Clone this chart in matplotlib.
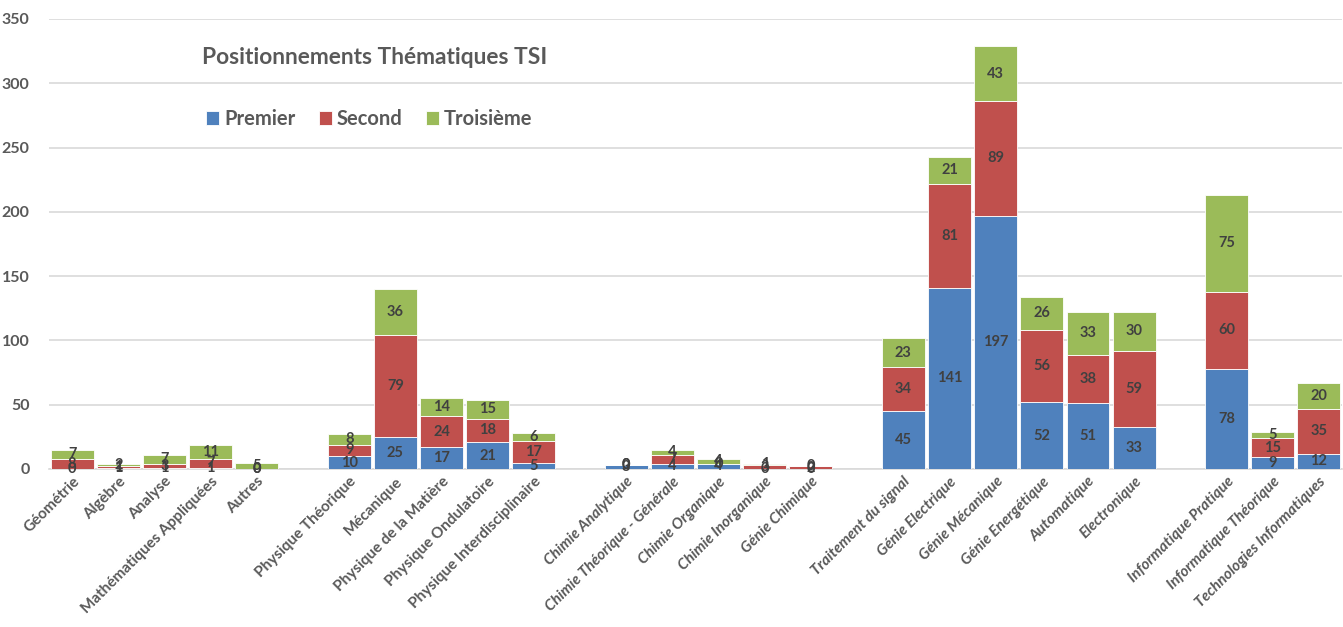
import matplotlib
matplotlib.use("Agg")
import matplotlib.pyplot as plt
import numpy as np

categories = ["Géométrie", "Algèbre", "Analyse", "Mathématiques Appliquées", "Autres", "",
              "Physique Théorique", "Mécanique", "Physique de la Matière", "Physique Ondulatoire",
              "Physique Interdisciplinaire", "",
              "Chimie Analytique", "Chimie Théorique - Générale", "Chimie Organique",
              "Chimie Inorganique", "Génie Chimique", "",
              "Traitement du signal", "Génie Electrique", "Génie Mécanique", "Génie Energétique",
              "Automatique", "Electronique", "",
              "Informatique Pratique", "Informatique Théorique", "Technologies Informatiques"]

premier = [0, 1, 1, 1, 0, None, 10, 25, 17, 21, 5, None, 3, 4, 4, 0, 0, None,
           45, 141, 197, 52, 51, 33, None, 78, 9, 12]
second = [8, 1, 3, 7, 0, None, 9, 79, 24, 18, 17, None, 0, 7, 0, 3, 2, None,
          34, 81, 89, 56, 38, 59, None, 60, 15, 35]
troisieme = [7, 2, 7, 11, 5, None, 8, 36, 14, 15, 6, None, 0, 4, 4, 1, 0, None,
             23, 21, 43, 26, 33, 30, None, 75, 5, 20]

series_names = ["Premier", "Second", "Troisième"]
colors = ["#4F81BD", "#C0504D", "#9BBB59"]
yticks = [0, 50, 100, 150, 200, 250, 300, 350]
title = "Positionnements Thématiques TSI"

plt.rcParams['font.family'] = ['Lato', 'DejaVu Sans']

fig = plt.figure(figsize=(13.43, 6.27), dpi=100)
ax = fig.add_axes([49/1343, 1 - 469/627, (1342-49)/1343, 450/627])

x = np.arange(len(categories))
valid = [i for i in range(len(categories)) if premier[i] is not None]
xv = np.array(valid)
data = [np.array([s[i] for i in valid], dtype=float) for s in (premier, second, troisieme)]

bottom = np.zeros(len(valid))
width = 0.93
for vals, name, col in zip(data, series_names, colors):
    ax.bar(xv, vals, width, bottom=bottom, color=col, label=name,
           edgecolor="white", linewidth=0.6, zorder=3)
    for xi, b, v in zip(xv, bottom, vals):
        ax.text(xi, b + v / 2, f"{int(v)}", ha="center", va="center",
                fontsize=10.5, fontweight="bold", color="#404040", zorder=4)
    bottom = bottom + vals

ax.set_xlim(-0.5, len(categories) - 0.5)
ax.set_ylim(0, 350)
ax.set_yticks(yticks)
ax.set_yticklabels([str(t) for t in yticks], fontsize=11.5, fontweight="bold", color="#595959")
ax.yaxis.grid(True, color="#D9D9D9", linewidth=1.2, zorder=0)
ax.set_axisbelow(True)
for s in ["top", "right", "left"]:
    ax.spines[s].set_visible(False)
ax.spines["bottom"].set_color("#D9D9D9")
ax.spines["bottom"].set_linewidth(1.2)
ax.tick_params(axis="y", length=0, pad=14)
ax.tick_params(axis="x", length=0, pad=4)

ax.set_xticks(x)
ax.set_xticklabels(categories, rotation=45, ha="right", rotation_mode="anchor",
                   fontsize=11, fontweight="bold", color="#595959")
for i, lab in enumerate(ax.get_xticklabels()):
    if i >= 12:
        lab.set_style("italic")

fig.text(202/1343, 1 - 57/627, title, ha="left", va="center", fontsize=16.4,
         fontweight="bold", color="#595959")

leg = ax.legend(loc="center left", bbox_to_anchor=((206-49)/1293, (469-119)/450),
                ncol=3, frameon=False, handlelength=0.65, handleheight=0.65,
                handletextpad=0.25, columnspacing=1.15, borderaxespad=0, borderpad=0,
                prop={"weight": "bold", "size": 14.5})
for t in leg.get_texts():
    t.set_color("#595959")

fig.savefig("out.png", dpi=100, facecolor="white")
